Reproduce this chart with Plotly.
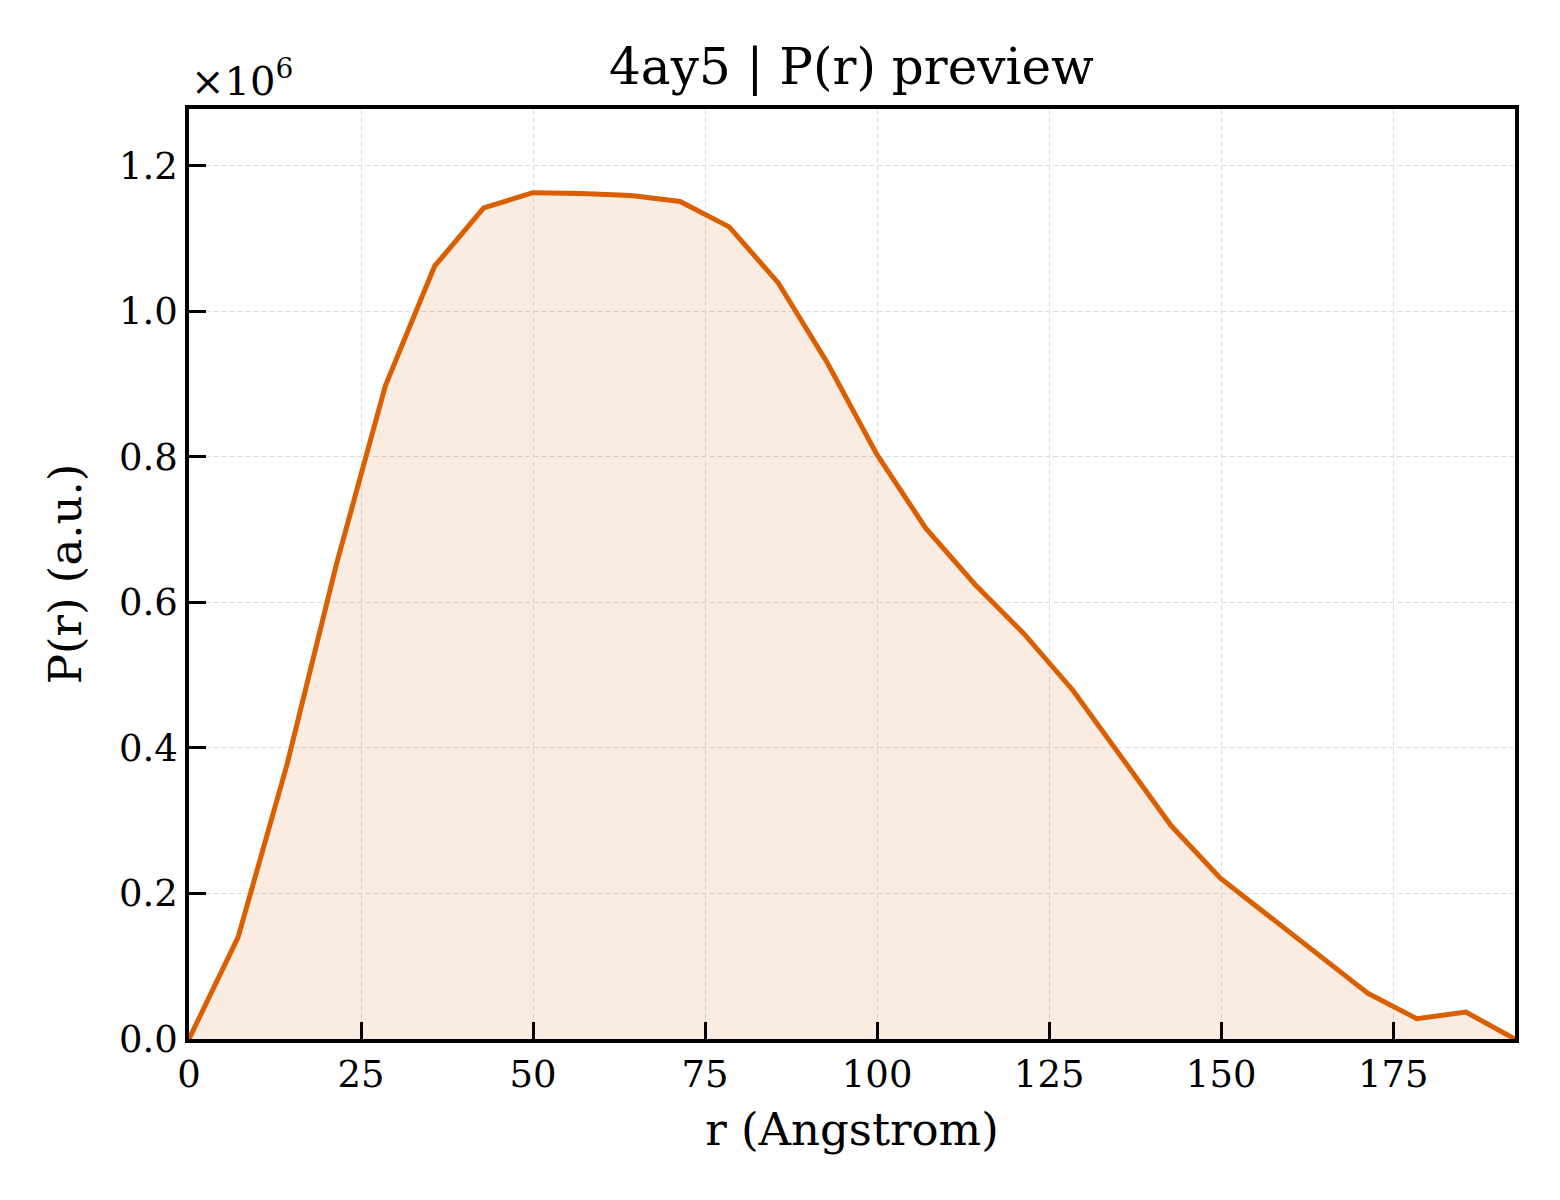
import plotly.graph_objects as go

# P(r) preview for 4ay5
r_angstrom = [0.0, 7.14, 14.27, 21.41, 28.55, 35.69, 42.82, 49.96, 57.10, 64.23,
              71.37, 78.51, 85.64, 92.78, 99.92, 107.06, 114.19, 121.33, 128.47, 135.60,
              142.74, 149.88, 157.01, 164.15, 171.29, 178.43, 185.56, 192.70]
pr_values = [0.0, 0.140e6, 0.378e6, 0.652e6, 0.898e6, 1.062e6, 1.142e6, 1.163e6, 1.162e6, 1.159e6,
             1.151e6, 1.116e6, 1.039e6, 0.929e6, 0.804e6, 0.702e6, 0.625e6, 0.557e6, 0.479e6, 0.386e6,
             0.293e6, 0.221e6, 0.168e6, 0.117e6, 0.063e6, 0.028e6, 0.037e6, 0.0]

x_ticks = [0, 25, 50, 75, 100, 125, 150, 175]
y_ticks = [0.0, 0.2e6, 0.4e6, 0.6e6, 0.8e6, 1.0e6, 1.2e6]
y_ticklabels = ["0.0", "0.2", "0.4", "0.6", "0.8", "1.0", "1.2"]

font_fam = "DejaVu Serif"

fig = go.Figure()
fig.add_trace(go.Scatter(
    x=r_angstrom, y=pr_values, mode="lines",
    line=dict(color="#d95f02", width=5),
    fill="tozeroy", fillcolor="rgba(217,95,2,0.12)",
    showlegend=False,
))

axis_common = dict(
    showline=True, linecolor="black", linewidth=3.5, mirror=True,
    ticks="inside", ticklen=17, tickwidth=3, tickcolor="black",
    showgrid=True, gridcolor="#dddddd", gridwidth=1.2, griddash="5px,3px",
    zeroline=False,
    tickfont=dict(family=font_fam, size=37, color="black"),
)

fig.update_xaxes(
    range=[0, 192.7], tickvals=x_ticks,
    title=dict(text="r (Angstrom)", font=dict(family=font_fam, size=45, color="black"), standoff=19),
    **axis_common,
)
fig.update_yaxes(
    range=[0, 1.278e6], tickvals=y_ticks, ticktext=y_ticklabels,
    title=dict(text="P(r) (a.u.)", font=dict(family=font_fam, size=45, color="black"), standoff=24),
    **axis_common,
)

fig.update_layout(
    width=1544, height=1184,
    margin=dict(l=181, r=37, t=101, b=153),
    paper_bgcolor="white", plot_bgcolor="white",
    title=dict(text="4ay5 | P(r) preview", x=0.5463, xanchor="center", y=0.9505, yanchor="middle",
               font=dict(family=font_fam, size=50, color="black")),
    annotations=[dict(
        text="×10<sup>6</sup>", xref="paper", yref="paper", x=0, y=1.0,
        xanchor="left", yanchor="bottom", yshift=3, showarrow=False,
        font=dict(family=font_fam, size=40, color="black"),
    )],
)

fig.write_html("out.html")
